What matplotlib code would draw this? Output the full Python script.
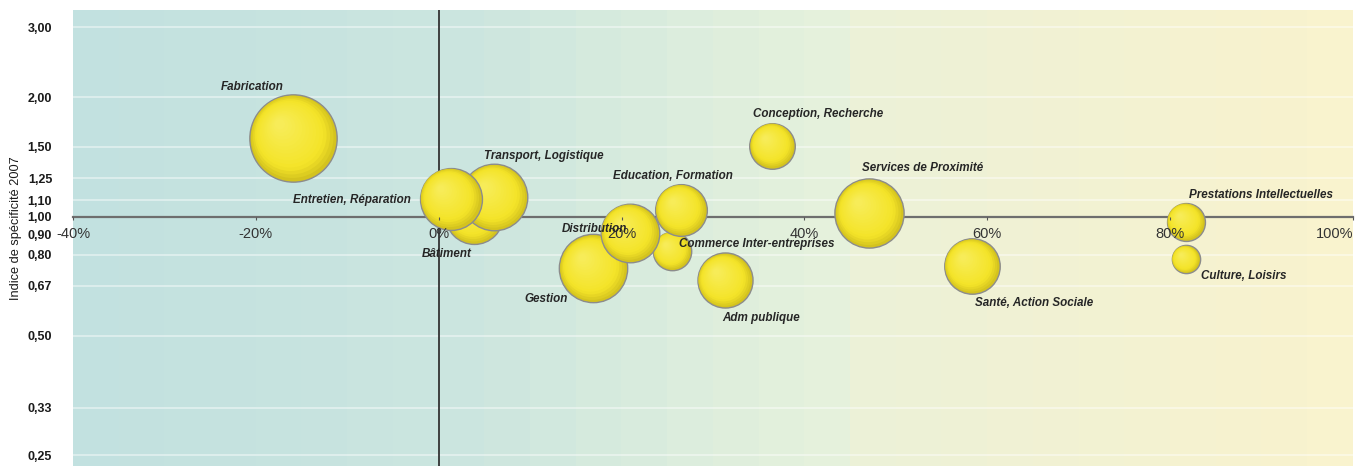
import numpy as np
import matplotlib
matplotlib.use("Agg")
import matplotlib.pyplot as plt
from matplotlib.transforms import offset_copy
from matplotlib.ticker import NullLocator
from matplotlib.font_manager import FontProperties

# bubbles, in drawing order (back to front)
secteurs = [
    "Fabrication", "Bâtiment", "Transport, Logistique", "Entretien, Réparation",
    "Gestion", "Commerce Inter-entreprises", "Distribution", "Education, Formation",
    "Adm publique", "Conception, Recherche", "Services de Proximité",
    "Santé, Action Sociale", "Prestations Intellectuelles", "Culture, Loisirs",
]
evolution = [-15.9, 3.9, 6.1, 1.3, 16.9, 25.5, 20.9, 26.5, 31.3, 36.5, 47.1, 58.3, 81.7, 81.7]
indice = [1.58, 1.01, 1.12, 1.11, 0.74, 0.82, 0.91, 1.04, 0.69, 1.51, 1.02, 0.75, 0.97, 0.78]
effectif = [191, 84, 111, 96, 117, 37, 86, 67, 76, 52, 120, 77, 36, 20]

# label offsets from bubble centre, in pixels
label_dx = [-73, -53, -10, -158, -69, 7, -68, -68, -3, -19, -7, 3, 3, 15]
label_dy = [51, -39, 41, -1, -31, 7, 4, 34, -38, 32, 45, -37, 27, -17]

x_ticks = [-40, -20, 0, 20, 40, 60, 80, 100]
x_labels = ["-40%", "-20%", "0%", "20%", "40%", "60%", "80%", "100%"]
y_ticks = [0.25, 0.33, 0.50, 0.67, 0.80, 0.90, 1.00, 1.10, 1.25, 1.50, 2.00, 3.00]
y_labels = ["0,25", "0,33", "0,50", "0,67", "0,80", "0,90", "1,00", "1,10", "1,25", "1,50", "2,00", "3,00"]
grid_vals = [0.25, 0.33, 0.50, 0.67, 0.80, 1.10, 1.25, 1.50, 2.00, 3.00]

tick_font = FontProperties(family=["Liberation Sans", "DejaVu Sans"], weight="bold", size=9)
ylab_font = FontProperties(family=["Liberation Sans", "DejaVu Sans"], size=9.2)

W_PX, H_PX = 1362, 466
fig = plt.figure(figsize=(W_PX / 100, H_PX / 100), dpi=100)
rect = [73 / W_PX, 0, 1280 / W_PX, 456 / H_PX]

# background gradient (teal -> pale yellow), slightly banded like the original
bg = fig.add_axes(rect, zorder=0)
stops = np.array([0.0, 0.31, 0.5, 0.6, 0.62, 1.0])
cols = np.array([
    [194, 225, 224], [204, 230, 223], [222, 238, 221],
    [230, 242, 220], [236, 241, 216], [249, 243, 206],
]) / 255.0
pos = np.linspace(0, 1, 28)
grad = np.stack([np.interp(pos, stops, cols[:, c]) for c in range(3)], axis=-1)
bg.imshow(grad[np.newaxis, :, :], aspect="auto", extent=[0, 1, 0, 1], interpolation="nearest")
bg.axis("off")

ax = fig.add_axes(rect, zorder=1)
ax.patch.set_alpha(0)
ax.set_yscale("log")
ax.set_xlim(-40, 100)
ax.set_ylim(0.235, 3.317)

ax.hlines(grid_vals, -40, 100, colors="white", alpha=0.5, lw=1.2, zorder=0.8)
ax.axvline(0, color="#333333", lw=1.3, zorder=2)

for side in ["top", "right", "left"]:
    ax.spines[side].set_visible(False)
ax.spines["bottom"].set_position(("data", 1.0))
ax.spines["bottom"].set_color("#6e6e6e")
ax.spines["bottom"].set_linewidth(1.6)
ax.spines["bottom"].set_zorder(2)

ax.set_xticks(x_ticks)
ax.set_xticklabels(x_labels, family="Liberation Sans", color="#333333", fontsize=10.5)
ax.tick_params(axis="x", direction="out", length=2.5, width=0.8, color="#555555", pad=5)
xl = ax.get_xticklabels()
for lbl in xl[:-1]:
    lbl.set_x(lbl.get_position()[0] + 0.3)
xl[-1].set_horizontalalignment("right")
xl[-1].set_x(100.3)
ax.xaxis.set_zorder(5)

ax.set_yticks(y_ticks)
ax.set_yticklabels(y_labels)
ax.yaxis.set_minor_locator(NullLocator())
ax.tick_params(axis="y", length=0, pad=15)
for lbl in ax.get_yticklabels():
    lbl.set_fontproperties(tick_font)
    lbl.set_color("#1a1a1a")

fig.text(16 / W_PX, 1 - 228 / H_PX, "Indice de spécificité 2007", rotation=90,
         ha="center", va="center", fontproperties=ylab_font, color="#1a1a1a")

# shaded bubbles
edge_c = np.array([212, 195, 30]) / 255
mid_c = np.array([244, 228, 40]) / 255
top_c = np.array([247, 236, 88]) / 255
fracs = np.linspace(1.0, 0.12, 16)
for i, (x, y, e) in enumerate(zip(evolution, indice, effectif)):
    s = e * 20.7
    r_pt = np.sqrt(s) / 2
    for k, f in enumerate(fracs):
        if f > 0.8:
            t = (1 - f) / 0.2
            c = edge_c + (mid_c - edge_c) * t
        else:
            t = (0.8 - f) / 0.68
            c = mid_c + (top_c - mid_c) * t
        tr = offset_copy(ax.transData, fig=fig, x=-(1 - f) * r_pt * 0.35,
                         y=(1 - f) * r_pt * 0.35, units="points")
        ax.scatter([x], [y], s=s * f * f, color=c, transform=tr,
                   edgecolors="#8c8c8c" if k == 0 else "none",
                   linewidths=1.0 if k == 0 else 0,
                   zorder=3 + i * 0.05 + k * 0.001)
    ax.annotate(secteurs[i], (x, y), xytext=(label_dx[i], label_dy[i]),
                textcoords="offset pixels", ha="left", va="center",
                fontsize=8.4, fontweight="bold", fontstyle="italic",
                family="Liberation Sans", color="#262626", zorder=6)

fig.savefig("out.png", dpi=100)
